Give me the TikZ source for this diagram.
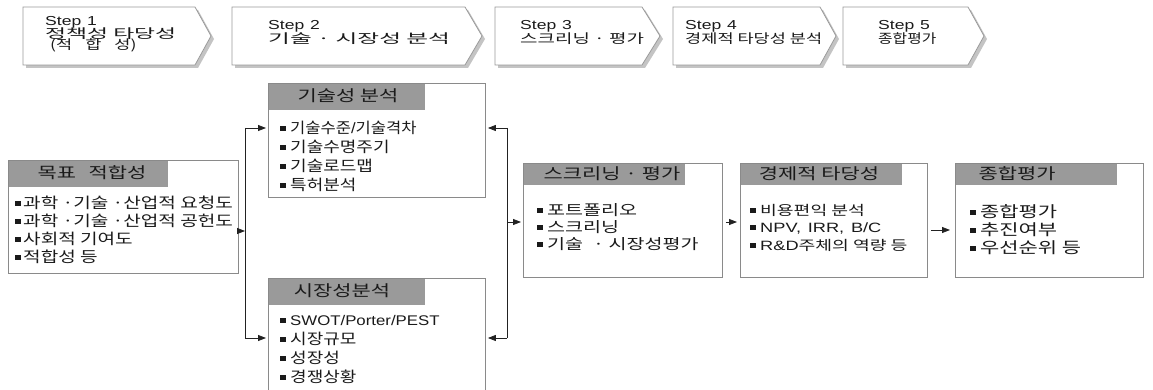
\documentclass[tikz,border=0pt]{standalone}
\usepackage{graphicx}
\usepackage{fontspec}
\setmainfont{Noto Sans CJK KR}[FakeStretch=1.2]
\newfontfamily\lat{Liberation Sans}[FakeStretch=1.2]
\newfontfamily\krw{Noto Sans CJK KR}[FakeStretch=1.35]
\newfontfamily\latw{Liberation Sans}[FakeStretch=1.35]
\usetikzlibrary{arrows.meta}
\definecolor{txt}{HTML}{1A1A1A}
\definecolor{boxgray}{HTML}{8A8A8A}
\definecolor{headgray}{HTML}{9A9A9A}
\definecolor{chevgray}{HTML}{9A9A9A}
\definecolor{shadowgray}{HTML}{C4C4C4}
\definecolor{arrowc}{HTML}{222222}
\newcommand{\bul}{\rule[2.5pt]{5.5pt}{5pt}\hspace{4.5pt}}
\newcommand{\bulc}{\rule[2.5pt]{6pt}{5pt}\hspace{2pt}}
\begin{document}
\begin{tikzpicture}[x=1pt,y=-1pt,
  chev/.style={draw=chevgray, fill=white, line width=0.8pt},
  chevshadow/.style={fill=shadowgray},
  boxn/.style={draw=boxgray, line width=0.9pt, inner sep=0pt, anchor=north west},
  head/.style={fill=headgray},
  steptext/.style={inner sep=0pt, anchor=base west, font=\krw\fontsize{13}{13}\selectfont, text=txt},
  titletext/.style={inner sep=0pt, font=\krw\fontsize{15.5}{18}\selectfont, text=txt},
  item/.style={inner sep=0pt, anchor=west, font=\fontsize{15}{16}\selectfont, text=txt},
  bigitem/.style={item, font=\krw\fontsize{14.5}{18}\selectfont},
  totitem/.style={item, font=\krw\fontsize{15.5}{18}\selectfont},
  smallitem/.style={item, font=\krw\fontsize{13.5}{16}\selectfont},
  arr/.style={draw=arrowc, line width=0.8pt, -{Triangle[length=8pt,width=6pt]}},
  bus/.style={draw=arrowc, line width=0.8pt},
]
\useasboundingbox (0,0) rectangle (1153,390);
\fill[white] (0,0) rectangle (1153,390);

% chevrons
\foreach \l/\c/\t in {23/195/211, 232/465/482, 495/642/660, 673/820/836, 843/968/984} {
  \fill[chevshadow] (\l+3,10) -- (\c+3,10) -- (\t+3,39) -- (\c+3,68) -- (\l+3,68) -- cycle;
  \draw[chev] (\l,7) -- (\c,7) -- (\t,36) -- (\c,65) -- (\l,65) -- cycle;
}
\node[steptext] (s1a) at (45,26) {{\latw Step\hspace{0.45em}1}};
\node[steptext] (s1b) at (45,39) {\scalebox{1.3}[1]{정책성 타당성}};
\node[steptext] (s1c) at (50,50) {(적\hspace{13pt}합\hspace{13pt}성)};
\node[steptext] (s2a) at (268,30) {{\latw Step\hspace{0.45em}2}};
\node[steptext] (s2b) at (268,43.5) {\scalebox{1.35}[1]{기술 · 시장성 분석}};
\node[steptext] (s3a) at (520,30) {{\latw Step\hspace{0.45em}3}};
\node[steptext] (s3b) at (520,43.5) {\scalebox{1.08}[1]{스크리닝 · 평가}};
\node[steptext] (s4a) at (685,30) {{\latw Step\hspace{0.45em}4}};
\node[steptext] (s4b) at (685,43.5) {경제적 타당성 분석};
\node[steptext] (s5a) at (878,30) {{\latw Step\hspace{0.45em}5}};
\node[steptext] (s5b) at (878,43.5) {\scalebox{0.9}[1]{종합평가}};

% header fills
\fill[head] (8,160) rectangle (168,187);
\fill[head] (268,83) rectangle (425,110);
\fill[head] (268,278) rectangle (425,305);
\fill[head] (523,163) rectangle (685,185);
\fill[head] (740,163) rectangle (902,185);
\fill[head] (955,163) rectangle (1117,185);

% boxes
\node[boxn, minimum width=230pt, minimum height=113pt] (mok) at (8,160) {};
\node[boxn, minimum width=217pt, minimum height=114pt] (tech) at (268,83) {};
\node[boxn, minimum width=217pt, minimum height=116pt] (mkt) at (268,278) {};
\node[boxn, minimum width=199pt, minimum height=114pt] (scr) at (523,163) {};
\node[boxn, minimum width=187pt, minimum height=114pt] (eco) at (740,163) {};
\node[boxn, minimum width=188pt, minimum height=114pt] (tot) at (955,163) {};

% titles
\node[titletext] (mokT) at (92,173) {목표\hspace{0.8em}적합성};
\node[titletext] (techT) at (348,96) {기술성 분석};
\node[titletext] (mktT) at (342,291) {시장성분석};
\node[titletext] (scrT) at (612,174) {스크리닝 · 평가};
\node[titletext] (ecoT) at (819,174) {경제적 타당성};
\node[titletext] (totT) at (1017,174) {종합평가};

% items
\node[item] (m1) at (15,203) {\bulc\scalebox{1.06}[1]{과학 ·기술 ·산업적 요청도}};
\node[item] (m2) at (15,221) {\bulc\scalebox{1.06}[1]{과학 ·기술 ·산업적 공헌도}};
\node[item] (m3) at (15,239) {\bulc\scalebox{1.06}[1]{사회적 기여도}};
\node[item] (m4) at (15,257) {\bulc\scalebox{1.06}[1]{적합성 등}};

\node[item] (t1) at (280,128) {\bul\scalebox{0.92}[1]{기술수준{\lat /}기술격차}};
\node[item] (t2) at (280,147) {\bul 기술수명주기};
\node[item] (t3) at (280,166) {\bul 기술로드맵};
\node[item] (t4) at (280,185) {\bul 특허분석};

\node[item] (k1) at (280,320) {\bul {\lat\fontsize{14}{16}\selectfont SWOT/Porter/PEST}};
\node[item] (k2) at (280,339) {\bul 시장규모};
\node[item] (k3) at (280,358) {\bul 성장성};
\node[item] (k4) at (280,377) {\bul 경쟁상황};

\node[bigitem] (c1) at (537,210) {\bul 포트폴리오};
\node[bigitem] (c2) at (537,227) {\bul 스크리닝};
\node[bigitem] (c3) at (537,244) {\bul 기술\hspace{10pt}· 시장성평가};

\node[smallitem] (e1) at (750,210) {\bul 비용편익 분석};
\node[smallitem] (e2) at (750,228) {\bul {\latw NPV,\hspace{0.5em}IRR,\hspace{0.5em}B/C}};
\node[smallitem] (e3) at (750,245) {\bul {\latw R\&D}주체의 역량 등};

\node[totitem] (g1) at (970,212) {\bul 종합평가};
\node[totitem] (g2) at (970,230) {\bul 추진여부};
\node[totitem] (g3) at (970,248) {\bul 우선순위 등};

% connectors
\coordinate (bL1) at (245,128);
\coordinate (bL2) at (245,338);
\coordinate (bLm) at (245,231);
\coordinate (bR1) at (507,128);
\coordinate (bR2) at (507,338);
\coordinate (bRm) at (507,222);
\coordinate (y2) at (0,222);
\coordinate (y3) at (0,230);
\draw[bus] (bL1) -- (bL2);
\draw[bus] (bR1) -- (bR2);
\draw[arr] (mok.east |- bLm) -- (bLm);
\draw[arr, shorten >=2pt] (bL1) -- (tech.west |- bL1);
\draw[arr, shorten >=2pt] (bL2) -- (mkt.west |- bL2);
\draw[arr, shorten >=2pt] (bR1) -- (tech.east |- bR1);
\draw[arr, shorten >=2pt] (bR2) -- (mkt.east |- bR2);
\draw[arr, shorten >=2pt] (bRm) -- (scr.west |- bRm);
\draw[arr, shorten <=3pt, shorten >=3pt] (scr.east |- y2) -- (eco.west |- y2);
\draw[arr, shorten <=3pt, shorten >=5pt] (eco.east |- y3) -- (tot.west |- y3);
\end{tikzpicture}
\end{document}
